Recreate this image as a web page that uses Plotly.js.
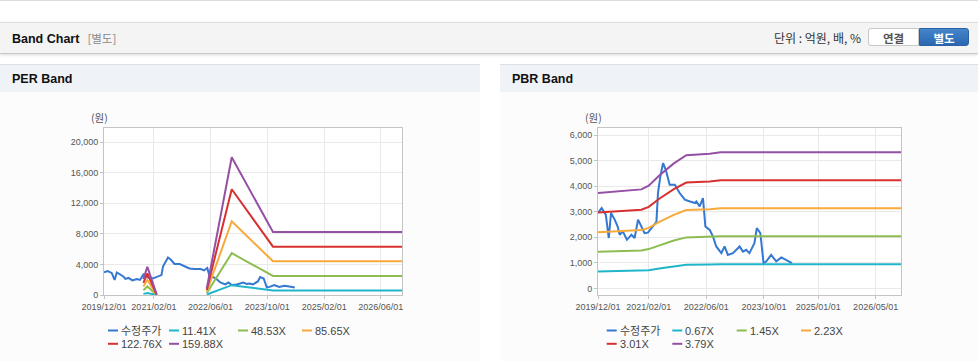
<!DOCTYPE html>
<html><head><meta charset="utf-8">
<script src="https://cdn.plot.ly/plotly-3.0.1.min.js"></script>
<style>
html,body{margin:0;padding:0;width:978px;height:361px;overflow:hidden;background:#fff;font-family:"Liberation Sans","Noto Sans CJK KR",sans-serif;}
.abs{position:absolute;}
#topline{left:0;top:0;width:978px;height:1px;background:#dcdcdc;}
#hdr{left:0;top:22px;width:978px;height:30px;background:#f4f4f4;border-top:1px solid #dedede;border-bottom:1px solid #c9c9c9;box-shadow:0 1px 3px rgba(0,0,0,0.15);}
#hdrTitle{left:12px;top:0;height:30px;line-height:30px;font-size:12.5px;font-weight:bold;color:#111;white-space:nowrap;}
#hdrTitle span{font-weight:normal;color:#8a8a8a;margin-left:8px;font-family:"Noto Sans CJK KR",sans-serif;font-size:11.5px;}
#unit{right:117px;top:0;height:30px;line-height:30px;font-size:12px;color:#333;font-family:"Noto Sans CJK KR",sans-serif;white-space:nowrap;}
.btn{top:5px;height:18px;line-height:18px;text-align:center;font-size:11.5px;font-weight:bold;font-family:"Noto Sans CJK KR",sans-serif;box-sizing:border-box;}
#btn1{left:868px;width:51px;background:#fff;border:1px solid #c8c8c8;border-radius:3px 0 0 3px;color:#555;}
#btn2{left:919px;width:50px;background:linear-gradient(#4585cc,#2b67ae);border:1px solid #2b62a6;border-radius:0 3px 3px 0;color:#fff;}
.panel{top:92px;height:269px;background:#fcfcfc;}
.phdr{top:64px;height:27px;background:#eff2f7;border-top:1px solid #dcdfe4;}
.phdr div{position:absolute;left:12px;top:0;height:27px;line-height:28px;font-size:12.5px;font-weight:bold;color:#111;}
</style></head>
<body>
<div id="topline" class="abs"></div>
<div id="hdr" class="abs">
  <div id="hdrTitle" class="abs">Band Chart<span>[별도]</span></div>
  <div id="unit" class="abs">단위 : 억원, 배, %</div>
  <div id="btn1" class="abs btn">연결</div>
  <div id="btn2" class="abs btn">별도</div>
</div>
<div class="abs phdr" style="left:0;width:480px;"><div>PER Band</div></div>
<div class="abs phdr" style="left:500px;width:478px;"><div>PBR Band</div></div>
<div class="abs panel" style="left:0;width:480px;"></div>
<div class="abs panel" style="left:500px;width:478px;"></div>
<div id="per" class="abs" style="left:0;top:92px;width:480px;height:269px;"></div>
<div id="pbr" class="abs" style="left:500px;top:92px;width:478px;height:269px;"></div>
<script>
// ---- data ----
const priceName = '수정주가';
const priceDates = ['2019-12-01','2020-01-01','2020-02-05','2020-03-01','2020-03-20','2020-04-20','2020-05-15','2020-06-01','2020-06-28','2020-08-01','2020-09-08','2020-10-05','2020-11-03','2020-12-01','2020-12-28','2021-01-25','2021-03-10','2021-04-07','2021-04-20','2021-05-10','2021-06-02','2021-06-25','2021-07-28','2021-09-10','2021-10-20','2021-12-03','2022-01-15','2022-02-28','2022-03-10','2022-04-07','2022-05-05','2022-05-25','2022-07-01','2022-07-28','2022-08-25','2022-10-07','2022-11-03','2022-12-01','2023-01-13','2023-03-10','2023-04-07','2023-05-04','2023-06-01','2023-07-13','2023-08-02','2023-09-01','2023-09-28','2023-10-22','2023-12-01','2024-01-13','2024-02-25','2024-04-07','2024-05-25'];
const priceVals = [2950,3140,2880,1970,2950,2690,2420,2100,2230,1900,2100,1970,2690,2420,2160,2180,2420,2600,3730,4380,4900,4640,4050,4050,3730,3470,3400,3340,3400,3210,3530,2420,2290,2030,1640,1380,1640,1310,1380,1640,1440,1510,1380,1770,2360,2160,990,1060,1310,1060,1210,1100,990];

const perNames = ['11.41X','48.53X','85.65X','122.76X','159.88X'];
const perDates = ['2020-11-03','2020-12-07','2021-02-25','2021-06-01','2022-05-01','2022-12-01','2023-11-20','2026-12-01'];
const per1 = [148, 264, 3, null, 62, 1285, 588, 588];
const per2 = [631, 1121, 15, null, 262, 5464, 2499, 2499];
const per3 = [1113, 1979, 26, null, 463, 9644, 4411, 4411];
const per4 = [1596, 2836, 37, null, 663, 13823, 6322, 6322];
const per5 = [2078, 3693, 48, null, 863, 18002, 8234, 8234];

const pbrNames = ['0.67X','1.45X','2.23X','3.01X','3.79X'];
const pbrDates = ['2019-12-01','2020-03-01','2020-06-15','2020-12-01','2021-02-01','2021-05-01','2021-09-01','2021-12-15','2022-07-01','2022-10-01','2026-12-01'];
const pbr1 = [660, 667, 677, 685, 710, 781, 864, 921, 931, 942, 942];
const pbr2 = [1428, 1443, 1465, 1482, 1537, 1689, 1871, 1994, 2016, 2039, 2039];
const pbr3 = [2197, 2219, 2252, 2279, 2364, 2598, 2877, 3066, 3100, 3135, 3135];
const pbr4 = [2965, 2995, 3040, 3076, 3191, 3507, 3883, 4139, 4184, 4232, 4232];
const pbr5 = [3733, 3771, 3828, 3873, 4017, 4415, 4889, 5211, 5268, 5329, 5329];

const perTickVals = ['2019-12-01','2021-02-01','2022-06-01','2023-10-01','2025-02-01','2026-06-01'];
const perTickText = ['2019/12/01','2021/02/01','2022/06/01','2023/10/01','2025/02/01','2026/06/01'];
const pbrTickVals = ['2019-12-01','2021-02-01','2022-06-01','2023-10-01','2025-01-01','2026-05-01'];
const pbrTickText = ['2019/12/01','2021/02/01','2022/06/01','2023/10/01','2025/01/01','2026/05/01'];

const colors = ['#3478d2','#1fb6ca','#8dbd50','#f7a93a','#d7302f','#9550a5'];

// ---- build ----
function makeChart(divId, opts) {
  const W = opts.W, H = 269;
  const m = opts.margin;
  const pw = W - m.l - m.r, ph = H - m.t - m.b;
  const px = x => (x - m.l) / pw;               // x in div px -> paper
  const py = y => (H - m.b - (y - 92)) / ph;     // page y -> paper
  const traces = [];
  traces.push({x: priceDates, y: priceVals, type: 'scatter', mode: 'lines', name: priceName,
    line: {color: colors[0], width: 2}, showlegend: false, hoverinfo: 'x+y'});
  opts.bands.forEach((b, i) => {
    traces.push({x: opts.dates, y: b, type: 'scatter', mode: 'lines', name: opts.names[i],
      line: {color: colors[i + 1], width: 2}, connectgaps: false, showlegend: false});
  });
  const allNames = [priceName].concat(opts.names);
  const shapes = [], annotations = [];
  allNames.forEach((n, i) => {
    const pos = opts.legendPos[i];
    const yy = py(pos[1]);
    shapes.push({type: 'line', xref: 'paper', yref: 'paper', x0: px(pos[0]), x1: px(pos[0] + 10), y0: yy, y1: yy,
      line: {color: colors[i], width: 2}});
    annotations.push({xref: 'paper', yref: 'paper', x: px(pos[0] + 11), y: yy, xanchor: 'left', yanchor: 'middle',
      text: n, showarrow: false, font: {size: 11, color: '#444', family: '"Liberation Sans","Noto Sans CJK KR",sans-serif'}});
  });
  annotations.push({xref: 'paper', yref: 'paper', x: px(opts.unitX), y: py(118), xanchor: 'center', yanchor: 'middle',
    text: '(원)', showarrow: false, font: {size: 10.5, color: '#555', family: '"Noto Sans CJK KR",sans-serif'}});
  const axFont = {size: 9, color: '#555', family: '"Liberation Sans",sans-serif'};
  const layout = {
    width: W, height: H, margin: m,
    paper_bgcolor: 'rgba(0,0,0,0)', plot_bgcolor: '#ffffff',
    showlegend: false,
    xaxis: {type: 'date', range: ['2019-12-01', '2026-12-01'], tickvals: opts.tickVals, ticktext: opts.tickText,
      showgrid: true, gridcolor: '#e9e9e9', showline: true, linecolor: '#c4c4c4', mirror: true,
      ticks: 'outside', ticklen: 3, tickcolor: '#c4c4c4', tickfont: axFont, zeroline: false, fixedrange: true},
    yaxis: {range: opts.yRange, tickvals: opts.yTicks, tickformat: ',d', showgrid: true, gridcolor: '#e9e9e9',
      showline: true, linecolor: '#c4c4c4', mirror: true, ticks: 'outside', ticklen: 3, tickcolor: '#c4c4c4',
      tickfont: axFont, zeroline: false, fixedrange: true},
    shapes: shapes, annotations: annotations
  };
  Plotly.newPlot(divId, traces, layout, {displayModeBar: false, staticPlot: true});
}

makeChart('per', {
  W: 480, margin: {l: 104, r: 78, t: 36, b: 66},
  dates: perDates, bands: [per1, per2, per3, per4, per5], names: perNames,
  tickVals: perTickVals, tickText: perTickText,
  yRange: [0, 21830], yTicks: [0, 4000, 8000, 12000, 16000, 20000],
  unitX: 99,
  legendPos: [[108, 330.5], [169, 330.5], [238, 330.5], [302, 330.5], [108, 343.8], [169, 343.8]]
});
makeChart('pbr', {
  W: 478, margin: {l: 98, r: 77, t: 36, b: 66},
  dates: pbrDates, bands: [pbr1, pbr2, pbr3, pbr4, pbr5], names: pbrNames,
  tickVals: pbrTickVals, tickText: pbrTickText,
  yRange: [-260, 6275], yTicks: [0, 1000, 2000, 3000, 4000, 5000, 6000],
  unitX: 93,
  legendPos: [[106.7, 330.5], [172.3, 330.5], [236.7, 330.5], [301, 330.5], [106.7, 343.8], [172.3, 343.8]]
});
</script>
</body></html>
